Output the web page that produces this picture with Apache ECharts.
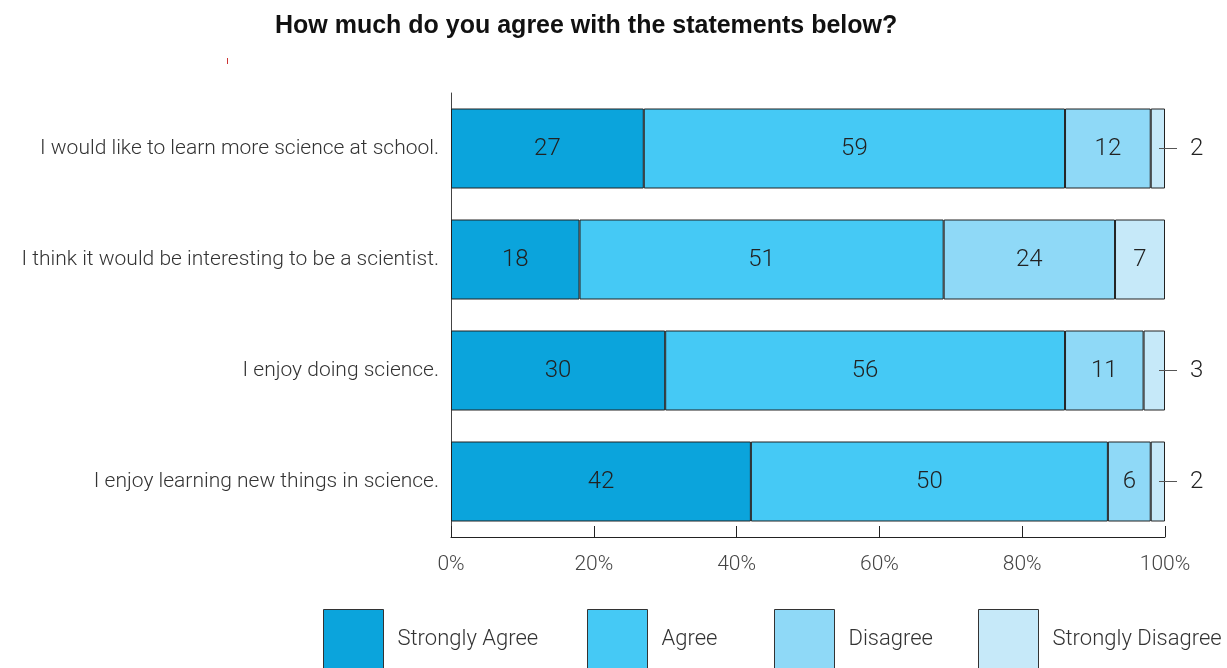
<!DOCTYPE html>
<html>
<head>
<meta charset="utf-8">
<script src="https://cdn.jsdelivr.net/npm/echarts@6/dist/echarts.min.js"></script>
<style>
  html, body { margin: 0; padding: 0; background: #fff; }
  #chart { width: 1227px; height: 668px; }
</style>
</head>
<body>
<div id="chart"></div>
<script>
// Survey statements (top to bottom)
const statements = [
  'I would like to learn more science at school.',
  'I think it would be interesting to be a scientist.',
  'I enjoy doing science.',
  'I enjoy learning new things in science.'
];
// Percent of respondents per answer
const stronglyAgree = [27, 18, 30, 42];
const agree = [59, 51, 56, 50];
const disagree = [12, 24, 11, 6];
const stronglyDisagree = [2, 7, 3, 2];
const seriesNames = ['Strongly Agree', 'Agree', 'Disagree', 'Strongly Disagree'];
const seriesColors = ['#0ba4dc', '#45c9f5', '#8fd9f7', '#c6e9f9'];
const axisTicks = [0, 20, 40, 60, 80, 100];

const FONT = 'Roboto';
const chart = echarts.init(document.getElementById('chart'));

// Small shares get an outside label with a short leader line
function insideLabel(params) {
  return params.value < 5 ? '' : String(params.value);
}

function makeSeries(name, values, color, withLeader) {
  return {
    name: name,
    type: 'bar',
    stack: 'total',
    barWidth: 80,
    data: values.map(function (v) {
      const item = { value: v };
      if (withLeader && v < 5) {
        item.label = {
          show: true,
          position: 'right',
          distance: -6,
          formatter: '{ln|}{v|' + v + '}',
          rich: {
            ln: { width: 18, height: 1, backgroundColor: '#555' },
            v: { fontFamily: FONT, fontWeight: 300, fontSize: 24, color: '#222', padding: [0, 0, 0, 13] }
          }
        };
      }
      return item;
    }),
    itemStyle: { color: color, borderColor: '#222', borderWidth: 1 },
    label: {
      show: true,
      position: 'inside',
      formatter: insideLabel,
      fontFamily: FONT,
      fontWeight: 300,
      fontSize: 24,
      color: '#222'
    },
    emphasis: { disabled: true }
  };
}

const legendLefts = [323, 587, 774, 978];

chart.setOption({
  animation: false,
  title: {
    text: 'How much do you agree with the statements below?',
    left: 275,
    top: 14,
    padding: 0,
    textStyle: { fontFamily: 'Liberation Sans', fontWeight: 'bold', fontSize: 25, color: '#111' }
  },
  legend: seriesNames.map(function (n, i) {
    return {
      data: [n],
      left: legendLefts[i],
      top: 609,
      padding: 0,
      itemWidth: 60,
      itemHeight: 60,
      icon: 'rect',
      itemStyle: { borderColor: '#333', borderWidth: 1 },
      textStyle: { fontFamily: FONT, fontWeight: 300, fontSize: 22, color: '#333', padding: [3, 0, 0, 9] },
      selectedMode: false
    };
  }),
  grid: { left: 451, right: 62, top: 93, height: 444 },
  xAxis: {
    type: 'value',
    min: axisTicks[0],
    max: axisTicks[axisTicks.length - 1],
    interval: 20,
    axisLine: { show: true, lineStyle: { color: '#222', width: 1 } },
    axisTick: { show: true, inside: true, length: 11, lineStyle: { color: '#222' } },
    splitLine: { show: false },
    axisLabel: { formatter: '{value}%', margin: 17, fontFamily: FONT, fontWeight: 300, fontSize: 21, color: '#444' }
  },
  yAxis: {
    type: 'category',
    inverse: true,
    data: statements,
    axisLine: { show: true, lineStyle: { color: '#444', width: 1 } },
    axisTick: { show: false },
    axisLabel: { margin: 12, fontFamily: FONT, fontWeight: 300, fontSize: 21, color: '#333' }
  },
  graphic: [{
    type: 'line',
    shape: { x1: 227.5, y1: 58, x2: 227.5, y2: 64 },
    style: { stroke: '#c33', lineWidth: 1 }
  }],
  series: [
    makeSeries(seriesNames[0], stronglyAgree, seriesColors[0], false),
    makeSeries(seriesNames[1], agree, seriesColors[1], false),
    makeSeries(seriesNames[2], disagree, seriesColors[2], false),
    makeSeries(seriesNames[3], stronglyDisagree, seriesColors[3], true)
  ]
});
</script>
</body>
</html>
